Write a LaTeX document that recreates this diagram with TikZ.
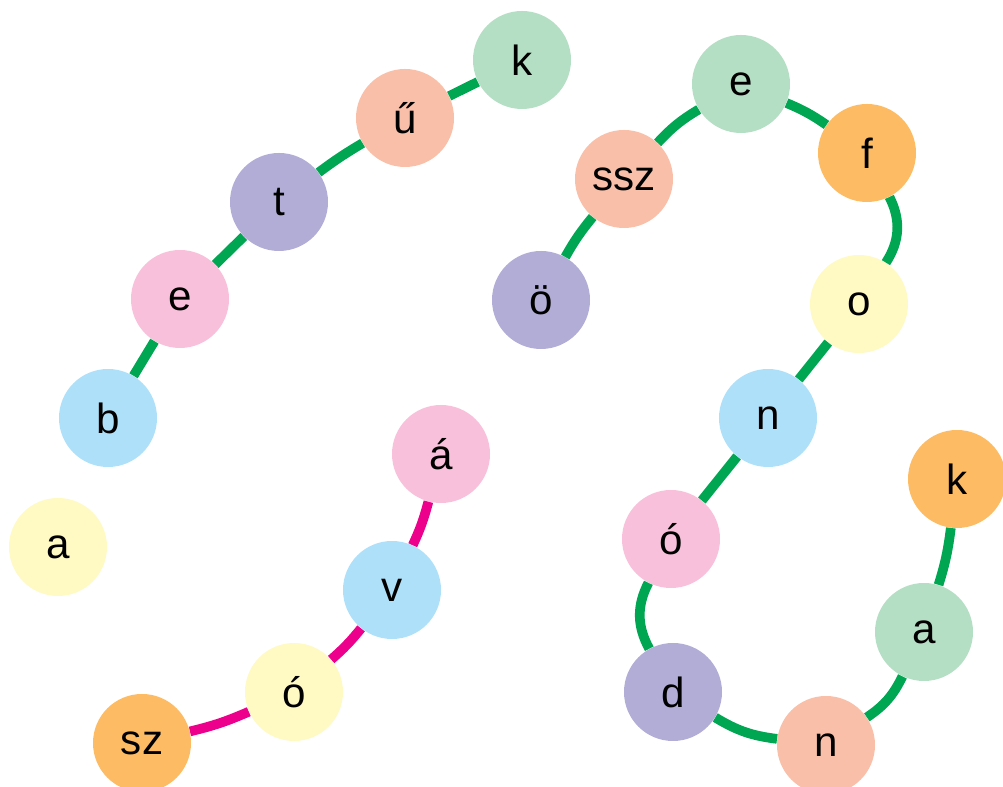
\documentclass[tikz,border=0pt]{standalone}
\usepackage{fontspec}
\setmainfont{Liberation Sans}
\definecolor{cyellow}{HTML}{FFF9C4}
\definecolor{cblue}{HTML}{AEE1F9}
\definecolor{cpink}{HTML}{F8C0DA}
\definecolor{cpurple}{HTML}{B1ADD6}
\definecolor{csalmon}{HTML}{F9BFA8}
\definecolor{cgreen}{HTML}{B5DFC4}
\definecolor{corange}{HTML}{FDBB63}
\definecolor{lgreen}{HTML}{00A651}
\definecolor{lmagenta}{HTML}{EC008C}
\tikzset{
  letter/.style={circle,minimum size=1.96cm,inner sep=0pt,fill=#1,
    font=\fontsize{24}{28}\selectfont},
  gline/.style={draw=lgreen,line width=5.5pt},
  mline/.style={draw=lmagenta,line width=5.5pt}
}
\begin{document}
\begin{tikzpicture}
	\useasboundingbox (0,0) rectangle (20.06,15.74);
	\clip (0,0) rectangle (20.06,15.74);
	% first word
	\node[letter=cyellow] (a1) at (1.16,4.80) {a};
	\node[letter=cblue] (b) at (2.16,7.38) {b};
	\node[letter=cpink] (e1) at (3.60,9.76) {e};
	\node[letter=cpurple] (t) at (5.58,11.70) {t};
	\node[letter=csalmon] (u) at (8.10,13.38) {ű};
	\node[letter=cgreen] (k1) at (10.44,14.54) {k};
	% second word
	\node[letter=cpurple] (oe) at (10.82,9.74) {ö};
	\node[letter=csalmon] (ssz) at (12.48,12.16) {ssz};
	\node[letter=cgreen] (e2) at (14.82,14.06) {e};
	\node[letter=corange] (f) at (17.34,12.68) {f};
	\node[letter=cyellow] (o) at (17.18,9.66) {o};
	\node[letter=cblue] (n1) at (15.36,7.38) {n};
	\node[letter=cpink] (oa) at (13.42,4.96) {ó};
	\node[letter=cpurple] (d) at (13.46,1.90) {d};
	\node[letter=csalmon] (n2) at (16.52,0.84) {n};
	\node[letter=cgreen] (a2) at (18.48,3.10) {a};
	\node[letter=corange] (k2) at (19.14,6.16) {k};
	% third word
	\node[letter=cpink] (aa) at (8.82,6.66) {á};
	\node[letter=cblue] (v) at (7.84,3.94) {v};
	\node[letter=cyellow] (ob) at (5.88,1.90) {ó};
	\node[letter=corange] (sz) at (2.84,0.88) {sz};
	% links
	\draw[gline] (b) -- (e1);
	\draw[gline] (e1) -- (t);
	\draw[gline] (t) to[bend left=3] (u);
	\draw[gline] (u) -- (k1);
	\draw[gline] (oe) to[bend left=5] (ssz);
	\draw[gline] (ssz) to[bend left=8] (e2);
	\draw[gline] (e2) to[bend left=6] (f);
	\draw[gline] (f) to[bend left=30] (o);
	\draw[gline] (o) -- (n1);
	\draw[gline] (n1) -- (oa);
	\draw[gline] (oa) to[bend right=28] (d);
	\draw[gline] (d) to[bend right=12] (n2);
	\draw[gline] (n2) to[bend right=15] (a2);
	\draw[gline] (a2) to[bend right=5] (k2);
	\draw[mline] (aa) to[bend left=5] (v);
	\draw[mline] (v) to[bend left=5] (ob);
	\draw[mline] (ob) to[bend left=5] (sz);
\end{tikzpicture}
\end{document}
